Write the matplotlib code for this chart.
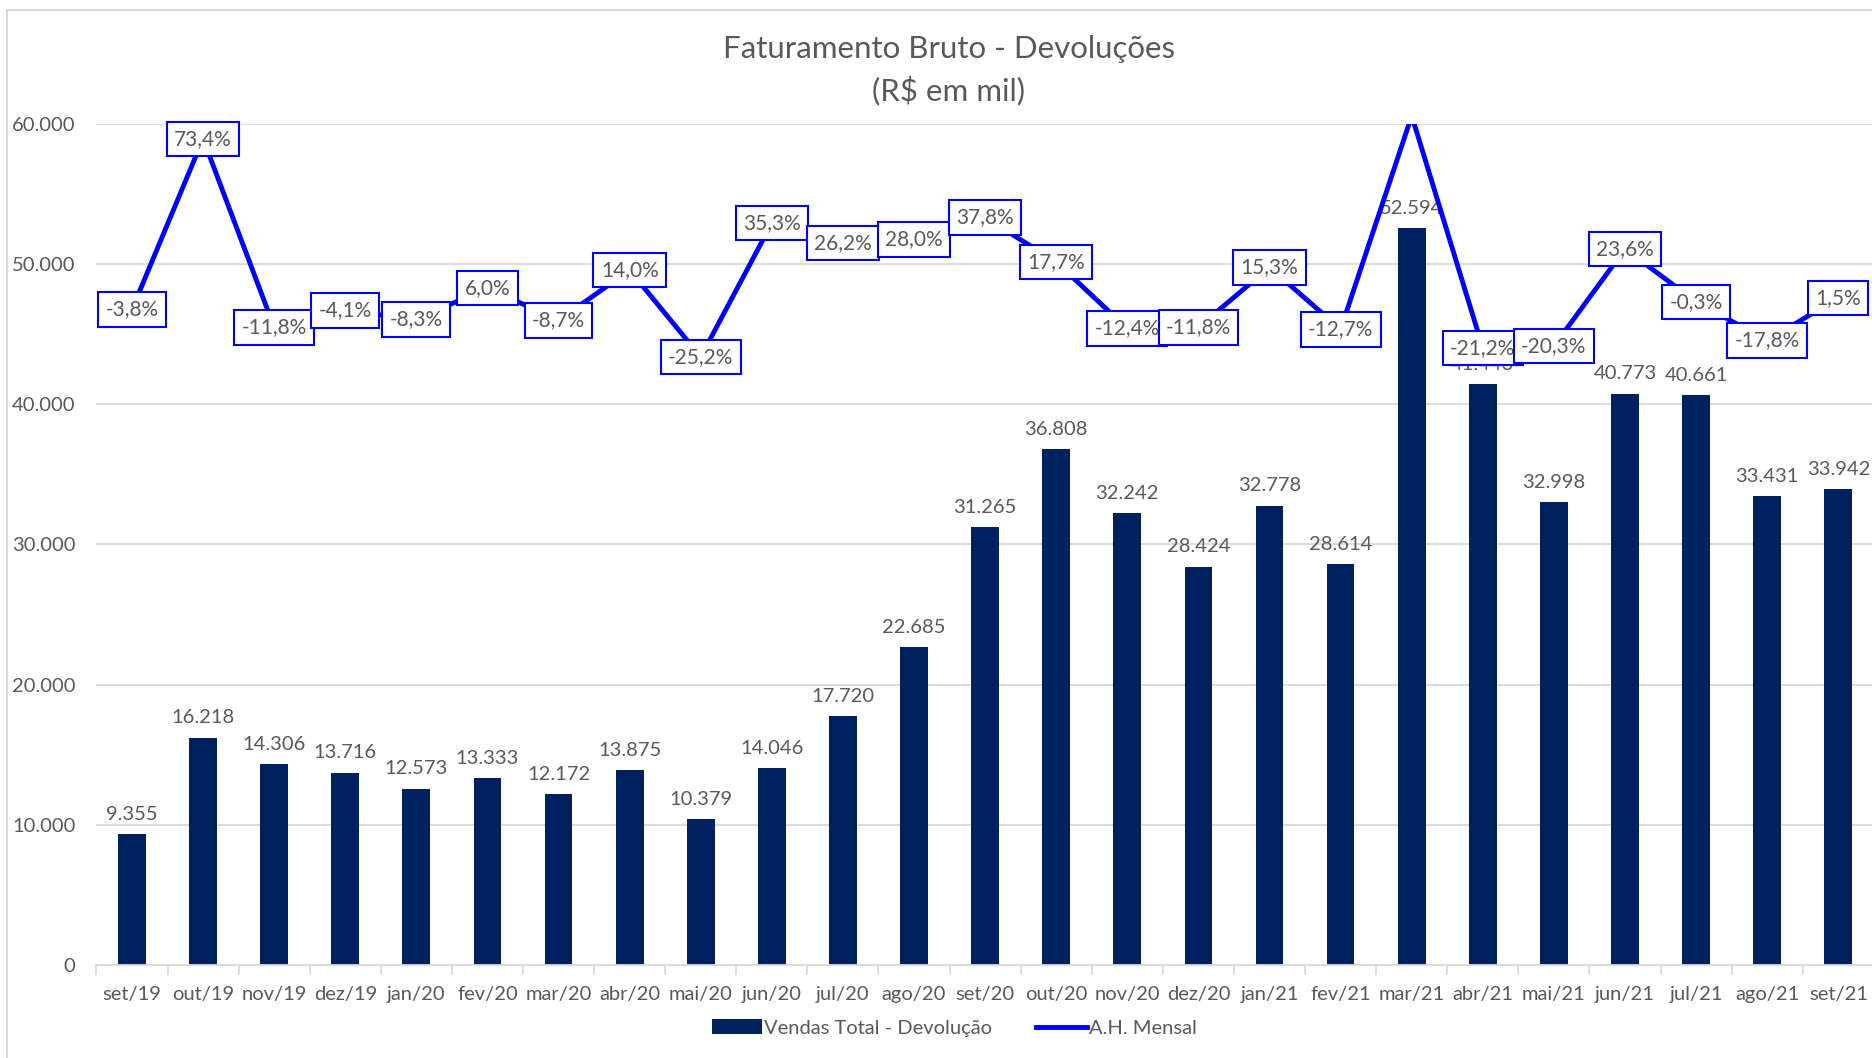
import matplotlib.pyplot as plt
import matplotlib.ticker as mticker
from matplotlib.patches import Rectangle
import numpy as np

plt.rcParams['font.family'] = ['Lato', 'DejaVu Sans']

# dados
meses = ['set/19', 'out/19', 'nov/19', 'dez/19', 'jan/20', 'fev/20', 'mar/20', 'abr/20',
         'mai/20', 'jun/20', 'jul/20', 'ago/20', 'set/20', 'out/20', 'nov/20', 'dez/20',
         'jan/21', 'fev/21', 'mar/21', 'abr/21', 'mai/21', 'jun/21', 'jul/21', 'ago/21', 'set/21']
vendas = [9355, 16218, 14306, 13716, 12573, 13333, 12172, 13875, 10379, 14046, 17720, 22685,
          31265, 36808, 32242, 28424, 32778, 28614, 52594, 41443, 32998, 40773, 40661, 33431, 33942]
ah_mensal = [-3.8, 73.4, -11.8, -4.1, -8.3, 6.0, -8.7, 14.0, -25.2, 35.3, 26.2, 28.0, 37.8,
             17.7, -12.4, -11.8, 15.3, -12.7, 83.8, -21.2, -20.3, 23.6, -0.3, -17.8, 1.5]

cinza = '#595959'
azul_escuro = '#002060'
azul = '#0000FF'

fig = plt.figure(figsize=(18.72, 10.58), dpi=100)
ax = fig.add_axes([0.0515, 0.0882, 0.9495, 0.7944])
x = np.arange(len(meses))

barras = ax.bar(x, vendas, width=0.39, color=azul_escuro, label='Vendas Total - Devolução', zorder=2)
for xi, v in zip(x, vendas):
    ax.annotate(f'{v:,.0f}'.replace(',', '.'), (xi, v), xytext=(0, 8), textcoords='offset points',
                ha='center', va='bottom', fontsize=14.5, color=cinza)

ax.set_ylim(0, 60000)
ax.set_xlim(-0.5, len(meses) - 0.5)
ax.yaxis.set_major_locator(mticker.MultipleLocator(10000))
ax.yaxis.set_major_formatter(mticker.FuncFormatter(lambda v, p: f'{v:,.0f}'.replace(',', '.')))
ax.grid(axis='y', color='#D9D9D9', lw=1.3, zorder=0)
ax.set_axisbelow(True)
ax.tick_params(axis='y', length=0, pad=15, labelsize=14.5, labelcolor=cinza)
ax.set_xticks(x)
ax.set_xticklabels(meses)
ax.set_xticks(np.arange(len(meses) + 1) - 0.5, minor=True)
ax.tick_params(axis='x', which='major', length=0, pad=15, labelsize=14.5, labelcolor=cinza)
ax.tick_params(axis='x', which='minor', length=7, color='#D9D9D9', width=1.2)
for s in ['top', 'right', 'left']:
    ax.spines[s].set_visible(False)
ax.spines['bottom'].set_color('#D9D9D9')
ax.spines['bottom'].set_linewidth(1.3)

# eixo secundario (A.H. Mensal)
ax2 = ax.twinx()
ax2.set_ylim(-300, 80)
linha, = ax2.plot(x, ah_mensal, color=azul, lw=3.5, label='A.H. Mensal')
for xi, p in zip(x, ah_mensal):
    if p > ax2.get_ylim()[1]:
        continue
    ax2.text(xi, p, f'{p:.1f}%'.replace('.', ','), ha='center', va='center', fontsize=15,
             color=cinza, bbox=dict(boxstyle='square,pad=0.35', fc='white', ec=azul, lw=1.5))
ax2.set_yticks([])
for s in ax2.spines.values():
    s.set_visible(False)

fig.text(949 / 1872, 1 - 49 / 1058, 'Faturamento Bruto - Devoluções', ha='center', va='center',
         fontsize=22.5, color=cinza)
fig.text(949 / 1872, 1 - 91 / 1058, '(R$ em mil)', ha='center', va='center', fontsize=22.5, color=cinza)

fig.legend(handles=[barras, linha], loc='center', bbox_to_anchor=(954 / 1872, 1 - 1028 / 1058),
           ncol=2, frameon=False, fontsize=14.5, labelcolor=cinza, handlelength=2.5,
           handletextpad=0.1, columnspacing=2.2)

# borda da area do grafico
fig.patches.append(Rectangle((7 / 1872, -0.5), 1.5, 1.5 - 10 / 1058, transform=fig.transFigure,
                             fill=False, ec='#D9D9D9', lw=1.5))

fig.savefig('out.png', dpi=100)
